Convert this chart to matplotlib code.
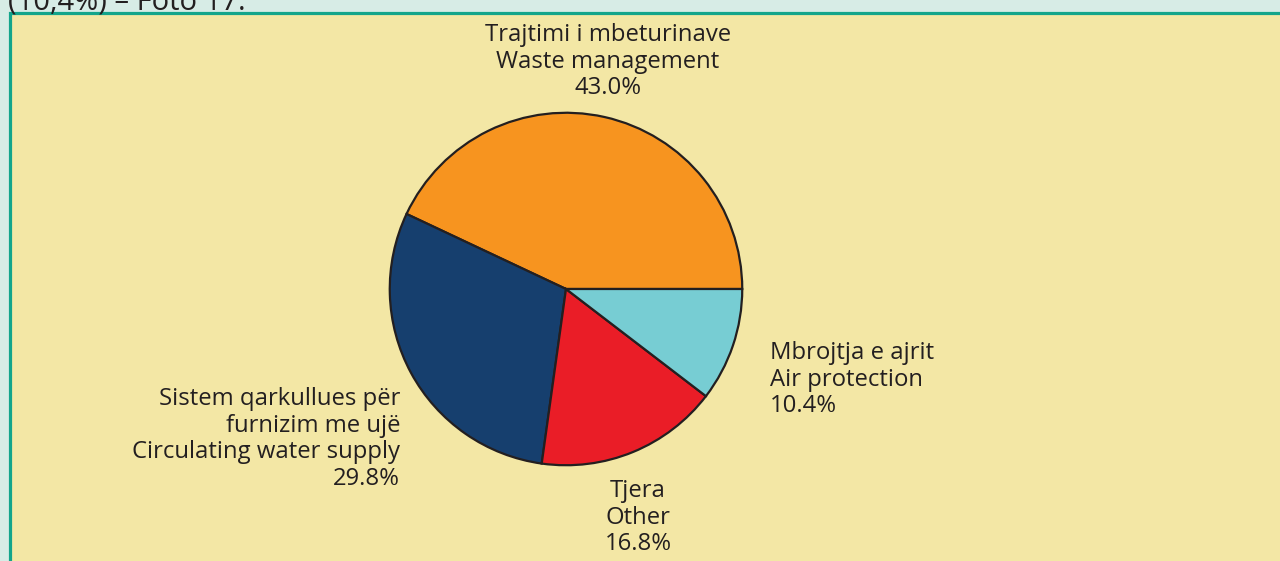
import matplotlib.pyplot as plt
from matplotlib.patches import Rectangle

# shares, counter-clockwise from 3 o'clock
values = [43.0, 29.8, 16.8, 10.4]
colors = ['#F7941F', '#163F6E', '#EA1D27', '#77CDD3']
labels = [
    'Trajtimi i mbeturinave\nWaste management\n43.0%',
    'Sistem qarkullues për\nfurnizim me ujë\nCirculating water supply\n29.8%',
    'Tjera\nOther\n16.8%',
    'Mbrojtja e ajrit\nAir protection\n10.4%',
]

W, H = 1280, 561
plt.rcParams['font.family'] = ['Open Sans', 'DejaVu Sans']
fig = plt.figure(figsize=(W / 100, H / 100), dpi=100)
fig.patch.set_facecolor('#D7ECE6')

# yellow panel with teal border
fig.patches.append(Rectangle((10 / W, -0.05), 1.1, (H - 13) / H + 0.05,
                             transform=fig.transFigure, facecolor='#F3E7A5',
                             edgecolor='#13A58B', lw=2.3, zorder=-1))
fig.text(8 / W, 1 - 9 / H, '(10,4%) – Foto 17.', fontsize=21, color='#231F20',
         va='baseline', ha='left')

cx, cy, r = 566, H - 289, 178
ax = fig.add_axes([(cx - r) / W, (cy - r) / H, 2 * r / W, 2 * r / H])
ax.set_zorder(1)
ax.pie(values, colors=colors, startangle=0, counterclock=True, radius=1,
       wedgeprops=dict(edgecolor='#231F20', linewidth=1.6))
ax.set_xlim(-1.01, 1.01)
ax.set_ylim(-1.01, 1.01)
ax.axis('off')

tk = dict(fontsize=17.2, color='#231F20', linespacing=1.14)
fig.text(608 / W, 1 - 23 / H, labels[0], ha='center', va='top', multialignment='center', **tk)
fig.text(400 / W, 1 - 387 / H, labels[1], ha='right', va='top', multialignment='right', **tk)
fig.text(638 / W, 1 - 479 / H, labels[2], ha='center', va='top', multialignment='center', **tk)
fig.text(770 / W, 1 - 341 / H, labels[3], ha='left', va='top', multialignment='left', **tk)

fig.savefig('out.png', dpi=100, facecolor=fig.get_facecolor())
